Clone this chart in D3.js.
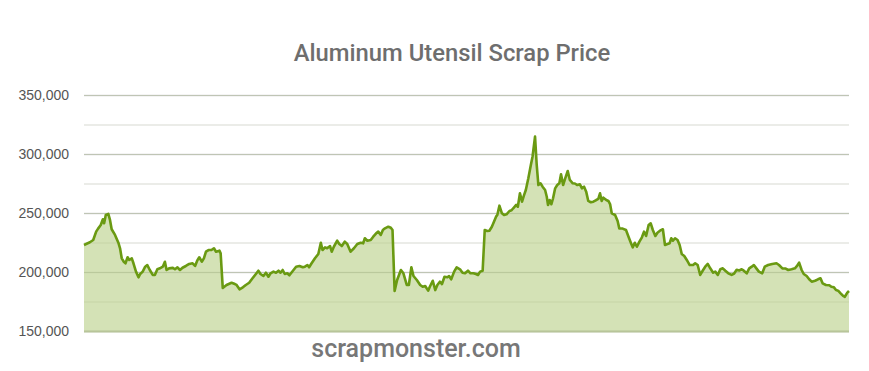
<!DOCTYPE html>
<html>
<head>
<meta charset="utf-8">
<script src="https://cdn.jsdelivr.net/npm/d3@7"></script>
<style>
  html, body { margin: 0; padding: 0; background: #fff; }
  svg { display: block; }
</style>
</head>
<body>
<svg id="chart" width="869" height="371"></svg>
<script>
// Day offset from the start of the series (approximate time axis)
const days = [0,14,22,29,34,40,45,48,52,58,62,66,74,82,86,90,95,99,104,108,114,118,124,130,134,140,146,151,157,164,169,175,181,188,193,197,203,212,217,223,229,235,243,251,259,265,270,275,281,286,291,297,304,310,315,323,326,
331,340,352,360,364,371,379,386,394,402,410,416,421,428,434,440,445,452,458,464,469,474,479,485,490,498,506,514,522,527,533,537,543,551,559,565,569,575,580,587,591,596,604,609,615,622,628,636,644,652,660,666,670,676,684,690,697,702,708,713,718,726,732,736,
741,747,756,762,770,775,781,786,794,802,808,814,821,825,832,838,843,849,854,860,867,871,876,883,889,897,903,909,916,922,929,935,940,945,951,
956,962,967,973,978,983,986,991,997,1002,1008,1015,1020,1024,1031,1035,1040,1045,1050,1054,1060,1066,1070,1076,1080,1084,1089,1094,1100,1104,1107,1111,1115,1119,1124,1129,1134,1138,1143,1148,1154,1159,1166,1171,1177,1183,1188,1193,1198,1203,1209,1215,1222,1227,1231,1235,1239,1246,1251,
1255,1259,1267,1273,1277,1285,1293,1299,1305,1309,1314,1319,1325,1331,1336,1341,1347,1352,1357,1363,1368,1374,1381,1386,1392,1397,1401,1405,1410,1416,1421,1426,1432,1438,1445,1453,1458,1464,1470,1477,1482,1488,1494,1501,1506,1512,1518,1524,1530,1537,1545,
1551,1557,1563,1569,1574,1581,1587,1593,1598,1604,1610,1618,1624,1632,1642,1652,1658,1666,1674,1680,1688,1696,1701,1706,1712,1717,1724,1730,1736,1744,1751,1757,1762,1770,1778,1783,1789,1794,1799,1805,1811,1815,1821,1825];

// Price values
const prices = [222900,225200,227100,234200,237000,239800,244700,241300,248300,249200,244100,236200,231400,224800,220100,211600,208700,207400,212500,210200,211600,207400,200300,195500,198300,200300,204500,205900,201700,197500,197500,202300,203100,204500,208700,201700,203100,203500,202300,204000,201700,203600,205100,206800,207400,205100,209600,212500,208700,211600,217200,218600,218600,220100,217200,218100,215800,
186500,189000,190900,189800,189000,185300,187000,189000,190900,194700,198300,201100,198300,196600,199400,196000,198900,200300,199400,201100,199400,201700,198300,198900,197200,200800,204500,205100,204000,204500,205900,204000,207400,211600,215300,224800,218600,220900,220100,222000,217200,221400,226500,223700,222000,225700,223700,217200,220100,223700,224800,224300,228600,226500,227100,229900,232800,234200,231400,235600,237000,238400,237500,235600,
184000,193200,201700,198900,189000,189000,204000,196600,193200,189000,187500,188100,184200,187500,192600,184700,189000,191800,189800,196000,195500,196600,193800,200300,204000,202300,199400,198900,201100,198900,199000,198300,197500,200300,201100,
235600,234700,235000,238400,242600,246900,248300,256200,249700,248300,248900,251700,252300,254000,256800,255300,266700,259600,265300,269500,279400,290700,297700,314700,290700,273700,275200,272300,269500,263800,256800,261000,257400,262500,270900,273700,275200,282800,273700,279400,285600,278000,275200,275000,273700,274300,270900,272300,268100,260200,259100,259600,261000,261900,266700,260200,263000,261000,260200,
257600,249700,248300,243200,237000,236800,235600,229900,224300,220900,224800,221400,225700,229400,234200,230500,239800,241300,235600,230500,233300,235000,236200,222900,223700,224300,228600,226500,228600,227100,222900,215300,213600,210200,205900,205900,207400,205900,197500,201700,204500,206800,203100,199400,200300,197500,202300,203100,201100,198900,197500,
198700,201900,201300,202300,201100,198900,203100,204500,205900,203100,200300,198900,204500,205900,206800,207400,205900,203100,202900,201700,202300,203100,205100,207900,201700,198300,196600,193800,191800,192600,193800,194700,190400,189000,188800,187500,187000,184700,184200,181900,179700,179000,182500,183900];

const yTicks = [150000, 200000, 250000, 300000, 350000];
const yMinorTicks = [175000, 225000, 275000, 325000];
const chartTitle = "Aluminum Utensil Scrap Price";
const watermark = "scrapmonster.com";

const data = days.map((d, i) => ({ day: d, price: prices[i] }));

const svg = d3.select("#chart");
const mLeft = 84, mRight = 849, mTop = 95, mBottom = 331;

const x = d3.scaleLinear().domain([0, d3.max(days)]).range([mLeft, mRight]);
const y = d3.scaleLinear().domain([150000, 350000]).range([mBottom, mTop]);

// Title
svg.append("text")
  .attr("x", 452).attr("y", 61)
  .attr("text-anchor", "middle")
  .attr("font-family", "Roboto, 'Open Sans', sans-serif")
  .attr("font-weight", 500)
  .attr("font-size", 23.8)
  .attr("fill", "#6e6e6e")
  .text(chartTitle);

// Minor gridlines
svg.append("g").selectAll("line").data(yMinorTicks).join("line")
  .attr("x1", mLeft).attr("x2", mRight)
  .attr("y1", d => y(d) + 0.5).attr("y2", d => y(d) + 0.5)
  .attr("stroke", "#ececec").attr("stroke-width", 1.5);

// Major gridlines
svg.append("g").selectAll("line").data(yTicks).join("line")
  .attr("x1", mLeft).attr("x2", mRight)
  .attr("y1", d => y(d) + 0.5).attr("y2", d => y(d) + 0.5)
  .attr("stroke", "#d2d2d2").attr("stroke-width", 1.5);

// Area
const area = d3.area().x(d => x(d.day)).y0(y(150000)).y1(d => y(d.price));
svg.append("path").datum(data)
  .attr("d", area)
  .attr("fill", "#c5d89e")
  .attr("fill-opacity", 0.75);

// Gridlines faintly visible through the area
svg.append("g").selectAll("line").data(yTicks.concat(yMinorTicks)).join("line")
  .attr("x1", mLeft).attr("x2", mRight)
  .attr("y1", d => y(d) + 0.5).attr("y2", d => y(d) + 0.5)
  .attr("stroke", "#9fae80").attr("stroke-opacity", d => yTicks.includes(d) ? 0.35 : 0.15)
  .attr("stroke-width", 1.2);

// Line
const line = d3.line().x(d => x(d.day)).y(d => y(d.price));
svg.append("path").datum(data)
  .attr("d", line)
  .attr("fill", "none")
  .attr("stroke", "#6a9a12")
  .attr("stroke-width", 2.6)
  .attr("stroke-linejoin", "round");

// Bottom baseline
svg.append("line")
  .attr("x1", mLeft).attr("x2", mRight)
  .attr("y1", y(150000) + 0.5).attr("y2", y(150000) + 0.5)
  .attr("stroke", "#b8c59a").attr("stroke-width", 2);

// Y axis labels
const yAxis = d3.axisLeft(y).tickValues(yTicks).tickFormat(d3.format(",")).tickSize(0).tickPadding(0);
const gAxis = svg.append("g").attr("transform", "translate(69,0)").call(yAxis);
gAxis.select(".domain").remove();
gAxis.selectAll("text")
  .attr("font-family", "'Liberation Sans', Arial, sans-serif")
  .attr("font-size", 14)
  .attr("fill", "#555")
  .attr("dy", "0.35em");

// Watermark
svg.append("text")
  .attr("x", 416).attr("y", 357)
  .attr("text-anchor", "middle")
  .attr("font-family", "Roboto, 'Open Sans', sans-serif")
  .attr("font-weight", 500)
  .attr("font-size", 25)
  .attr("fill", "#777")
  .text(watermark);
</script>
</body>
</html>
